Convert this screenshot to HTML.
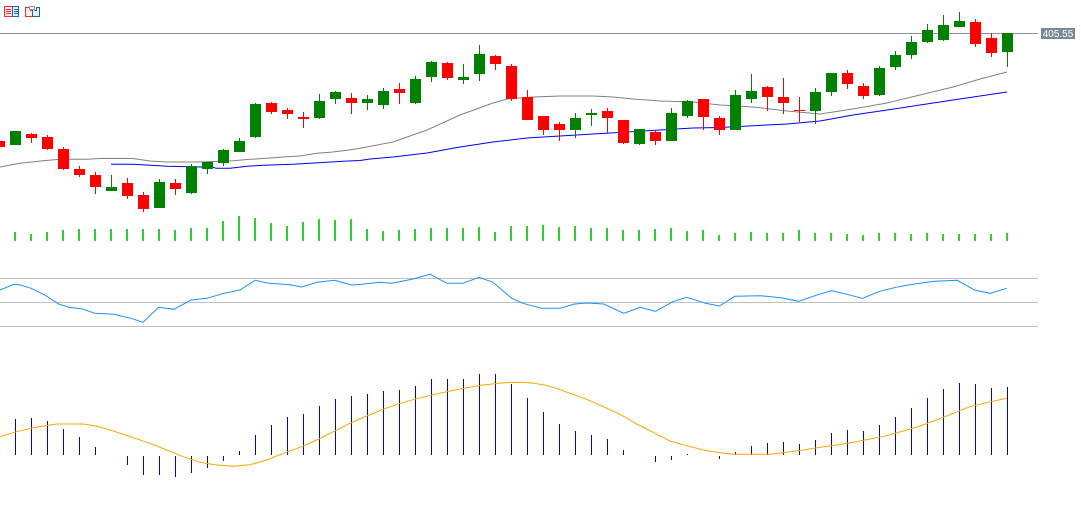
<!DOCTYPE html>
<html><head><meta charset="utf-8"><style>
html,body{margin:0;padding:0;background:#fff;width:1081px;height:507px;overflow:hidden}
svg{display:block}
</style></head><body>
<svg width="1081" height="507" viewBox="0 0 1081 507" xmlns="http://www.w3.org/2000/svg">
<rect width="1081" height="507" fill="#fff"/>
<!-- icons -->
<g shape-rendering="crispEdges">
<rect x="4.5" y="6.5" width="8" height="10" fill="#fde8e8" stroke="#e03030"/>
<rect x="12.5" y="6.5" width="6" height="10" fill="#e8f0fa" stroke="#1a66b0"/>
<rect x="6" y="9" width="5" height="1" fill="#e03030"/><rect x="6" y="11" width="5" height="1" fill="#e03030"/><rect x="6" y="13" width="5" height="1" fill="#e03030"/>
<rect x="14" y="9" width="4" height="1" fill="#1a66b0"/><rect x="14" y="11" width="4" height="1" fill="#1a66b0"/><rect x="14" y="13" width="4" height="1" fill="#1a66b0"/>
<path d="M25.5 7.5 H30.5 V10.5 H32.5 V16.5 H25.5 Z" fill="#fde8e8" stroke="#e03030"/>
<path d="M34.5 10.5 H36.5 V7.5 H39.5 V16.5 H32.5 V10.5" fill="#e8f0fa" stroke="#1a66b0"/>
<rect x="29.5" y="6.5" width="5" height="3" fill="#fff" stroke="#999"/>
</g>
<!-- price line -->
<line x1="0" y1="33.5" x2="1038" y2="33.5" stroke="#8a949e" stroke-width="1"/>
<rect x="1041" y="28" width="34" height="11" fill="#778899"/>
<text x="1058" y="37" font-family="Liberation Sans, sans-serif" font-size="10" fill="#fff" text-anchor="middle">405.55</text>
<!-- moving averages -->
<polyline fill="none" stroke="#808080" stroke-width="1" points="0,167 20,163.3 43,160.7 60,159.3 87,159.3 100,158.5 133,158.5 150,161 167,162 200,162 233,160.7 250,159.3 267,158.3 283,157 300,156 317,153.3 333,152 347,150.3 360,148.3 393,142 427,130 460,115 493,103 507,99 533,97 560,96 593,96 613,97 633,99 660,101 693,102 720,105 753,107 787,111 820,114 853,109 887,103 920,95 953,87 980,79 1007,72"/>
<polyline fill="none" stroke="#0000ff" stroke-width="1" points="111,164.3 133,164.3 150,165.3 167,166.3 213,167.3 216,168.3 230,168.3 247,166.3 263,165.3 293,164.3 310,163.3 327,162.3 343,161.3 360,160.5 370,159 393,157 427,153 460,147 493,142 527,138 560,136 593,134 627,132 660,130 693,128 720,127.5 787,124 820,121 853,115 887,110 920,105 953,100 1007,92"/>
<!-- candles red -->
<g fill="#ff0000" shape-rendering="crispEdges">
<rect x="-6" y="141" width="11" height="6"/>
<rect x="31" y="133" width="1" height="10"/><rect x="26" y="134" width="11" height="4"/>
<rect x="47" y="135" width="1" height="15"/><rect x="42" y="137" width="11" height="12"/>
<rect x="63" y="147" width="1" height="23"/><rect x="58" y="149" width="11" height="20"/>
<rect x="79" y="166" width="1" height="11"/><rect x="74" y="169" width="11" height="6"/>
<rect x="95" y="172" width="1" height="22"/><rect x="90" y="175" width="11" height="12"/>
<rect x="127" y="178" width="1" height="21"/><rect x="122" y="183" width="11" height="13"/>
<rect x="143" y="192" width="1" height="20"/><rect x="138" y="195" width="11" height="14"/>
<rect x="175" y="179" width="1" height="16"/><rect x="170" y="183" width="11" height="6"/>
<rect x="271" y="102" width="1" height="12"/><rect x="266" y="103" width="11" height="9"/>
<rect x="287" y="108" width="1" height="11"/><rect x="282" y="110" width="11" height="4"/>
<rect x="303" y="112" width="1" height="16"/><rect x="298" y="117" width="11" height="2"/>
<rect x="351" y="93" width="1" height="21"/><rect x="346" y="98" width="11" height="5"/>
<rect x="399" y="83" width="1" height="21"/><rect x="394" y="89" width="11" height="4"/>
<rect x="447" y="62" width="1" height="18"/><rect x="442" y="63" width="11" height="15"/>
<rect x="495" y="55" width="1" height="15"/><rect x="490" y="56" width="11" height="8"/>
<rect x="511" y="64" width="1" height="37"/><rect x="506" y="66" width="11" height="33"/>
<rect x="527" y="90" width="1" height="30"/><rect x="522" y="97" width="11" height="23"/>
<rect x="543" y="116" width="1" height="19"/><rect x="538" y="116" width="11" height="14"/>
<rect x="559" y="122" width="1" height="19"/><rect x="554" y="124" width="11" height="6"/>
<rect x="607" y="108" width="1" height="25"/><rect x="602" y="111" width="11" height="7"/>
<rect x="623" y="120" width="1" height="24"/><rect x="618" y="120" width="11" height="23"/>
<rect x="655" y="130" width="1" height="15"/><rect x="650" y="132" width="11" height="9"/>
<rect x="703" y="99" width="1" height="31"/><rect x="698" y="99" width="11" height="18"/>
<rect x="719" y="116" width="1" height="19"/><rect x="714" y="118" width="11" height="12"/>
<rect x="767" y="86" width="1" height="25"/><rect x="762" y="87" width="11" height="10"/>
<rect x="783" y="78" width="1" height="36"/><rect x="778" y="97" width="11" height="6"/>
<rect x="799" y="97" width="1" height="25"/><rect x="794" y="110" width="11" height="1"/>
<rect x="847" y="70" width="1" height="19"/><rect x="842" y="73" width="11" height="11"/>
<rect x="863" y="83" width="1" height="16"/><rect x="858" y="86" width="11" height="10"/>
<rect x="975" y="19" width="1" height="28"/><rect x="970" y="22" width="11" height="22"/>
<rect x="991" y="33" width="1" height="24"/><rect x="986" y="38" width="11" height="15"/>
</g>
<!-- candles green -->
<g fill="#008000" shape-rendering="crispEdges">
<rect x="10" y="131" width="11" height="14"/>
<rect x="111" y="175" width="1" height="16"/><rect x="106" y="187" width="11" height="4"/>
<rect x="159" y="179" width="1" height="29"/><rect x="154" y="182" width="11" height="26"/>
<rect x="191" y="164" width="1" height="30"/><rect x="186" y="166" width="11" height="27"/>
<rect x="207" y="162" width="1" height="12"/><rect x="202" y="162" width="11" height="7"/>
<rect x="223" y="149" width="1" height="17"/><rect x="218" y="150" width="11" height="13"/>
<rect x="239" y="138" width="1" height="14"/><rect x="234" y="141" width="11" height="11"/>
<rect x="255" y="103" width="1" height="35"/><rect x="250" y="104" width="11" height="33"/>
<rect x="319" y="94" width="1" height="25"/><rect x="314" y="101" width="11" height="17"/>
<rect x="335" y="91" width="1" height="13"/><rect x="330" y="92" width="11" height="7"/>
<rect x="367" y="95" width="1" height="15"/><rect x="362" y="99" width="11" height="4"/>
<rect x="383" y="88" width="1" height="21"/><rect x="378" y="91" width="11" height="14"/>
<rect x="415" y="76" width="1" height="28"/><rect x="410" y="79" width="11" height="24"/>
<rect x="431" y="61" width="1" height="21"/><rect x="426" y="62" width="11" height="15"/>
<rect x="463" y="64" width="1" height="20"/><rect x="458" y="77" width="11" height="3"/>
<rect x="479" y="45" width="1" height="36"/><rect x="474" y="54" width="11" height="20"/>
<rect x="575" y="113" width="1" height="25"/><rect x="570" y="118" width="11" height="12"/>
<rect x="591" y="109" width="1" height="17"/><rect x="586" y="113" width="11" height="2"/>
<rect x="639" y="129" width="1" height="16"/><rect x="634" y="129" width="11" height="15"/>
<rect x="671" y="108" width="1" height="33"/><rect x="666" y="113" width="11" height="28"/>
<rect x="687" y="100" width="1" height="18"/><rect x="682" y="101" width="11" height="15"/>
<rect x="735" y="90" width="1" height="40"/><rect x="730" y="95" width="11" height="35"/>
<rect x="751" y="74" width="1" height="29"/><rect x="746" y="91" width="11" height="8"/>
<rect x="815" y="88" width="1" height="36"/><rect x="810" y="92" width="11" height="19"/>
<rect x="831" y="73" width="1" height="23"/><rect x="826" y="73" width="11" height="19"/>
<rect x="879" y="66" width="1" height="30"/><rect x="874" y="68" width="11" height="27"/>
<rect x="895" y="51" width="1" height="19"/><rect x="890" y="55" width="11" height="12"/>
<rect x="911" y="36" width="1" height="23"/><rect x="906" y="42" width="11" height="13"/>
<rect x="927" y="24" width="1" height="19"/><rect x="922" y="30" width="11" height="12"/>
<rect x="943" y="15" width="1" height="26"/><rect x="938" y="25" width="11" height="15"/>
<rect x="959" y="12" width="1" height="15"/><rect x="954" y="21" width="11" height="6"/>
<rect x="1007" y="33" width="1" height="34"/><rect x="1002" y="33" width="11" height="19"/>
</g>
<!-- volume -->
<g fill="#32cd32" shape-rendering="crispEdges">
<rect x="14" y="232" width="2" height="9"/><rect x="30" y="234" width="2" height="7"/><rect x="46" y="232" width="2" height="9"/><rect x="62" y="230" width="2" height="11"/>
<rect x="78" y="229" width="2" height="12"/><rect x="94" y="229" width="2" height="12"/><rect x="110" y="229" width="2" height="12"/><rect x="126" y="229" width="2" height="12"/>
<rect x="142" y="229" width="2" height="12"/><rect x="158" y="229" width="2" height="12"/><rect x="174" y="230" width="2" height="11"/><rect x="190" y="228" width="2" height="13"/>
<rect x="206" y="228" width="2" height="13"/><rect x="222" y="221" width="2" height="20"/><rect x="238" y="216" width="2" height="25"/><rect x="254" y="218" width="2" height="23"/>
<rect x="270" y="223" width="2" height="18"/><rect x="286" y="226" width="2" height="15"/><rect x="302" y="222" width="2" height="19"/><rect x="318" y="219" width="2" height="22"/>
<rect x="334" y="220" width="2" height="21"/><rect x="350" y="219" width="2" height="22"/><rect x="366" y="229" width="2" height="12"/><rect x="382" y="231" width="2" height="10"/>
<rect x="398" y="230" width="2" height="11"/><rect x="414" y="229" width="2" height="12"/><rect x="430" y="228" width="2" height="13"/><rect x="446" y="228" width="2" height="13"/>
<rect x="462" y="228" width="2" height="13"/><rect x="478" y="227" width="2" height="14"/><rect x="494" y="232" width="2" height="9"/><rect x="510" y="226" width="2" height="15"/>
<rect x="526" y="226" width="2" height="15"/><rect x="542" y="225" width="2" height="16"/><rect x="558" y="227" width="2" height="14"/><rect x="574" y="226" width="2" height="15"/>
<rect x="590" y="228" width="2" height="13"/><rect x="606" y="228" width="2" height="13"/><rect x="622" y="230" width="2" height="11"/><rect x="638" y="230" width="2" height="11"/>
<rect x="654" y="229" width="2" height="12"/><rect x="670" y="228" width="2" height="13"/><rect x="686" y="231" width="2" height="10"/><rect x="702" y="230" width="2" height="11"/>
<rect x="718" y="235" width="2" height="6"/><rect x="734" y="233" width="2" height="8"/><rect x="750" y="232" width="2" height="9"/><rect x="766" y="233" width="2" height="8"/>
<rect x="782" y="233" width="2" height="8"/><rect x="798" y="230" width="2" height="11"/><rect x="814" y="233" width="2" height="8"/><rect x="830" y="233" width="2" height="8"/>
<rect x="846" y="234" width="2" height="7"/><rect x="862" y="235" width="2" height="6"/><rect x="878" y="233" width="2" height="8"/><rect x="894" y="233" width="2" height="8"/>
<rect x="910" y="234" width="2" height="7"/><rect x="926" y="233" width="2" height="8"/><rect x="942" y="234" width="2" height="7"/><rect x="958" y="234" width="2" height="7"/>
<rect x="974" y="234" width="2" height="7"/><rect x="990" y="234" width="2" height="7"/><rect x="1006" y="233" width="2" height="8"/>
</g>
<!-- RSI -->
<g stroke="#c0c0c0" stroke-width="1">
<line x1="0" y1="278.5" x2="1038" y2="278.5"/>
<line x1="0" y1="302.5" x2="1038" y2="302.5"/>
<line x1="0" y1="326.5" x2="1038" y2="326.5"/>
</g>
<polyline fill="none" stroke="#1e90ff" stroke-width="1" points="0,290 13.8,284.3 20.7,285 31,288.3 44.8,295 58.6,304 69,307.3 82.8,309 94.8,313.3 113.8,314.3 131,318.3 143,322.3 158.6,307.3 174,309.3 191,300 207,298.3 224,293.3 240,290 255,280.3 269,283.3 290,284.7 301.7,287 317,282.3 334.5,280.3 351.7,285 362,284.3 380,282.3 392,283.3 413,279 430,274.3 447,283.3 463,283.3 479,277.3 493,282.3 511.7,298.3 523,303.3 541.7,308.3 560,308.3 574.5,304 586.6,303 603.8,304 623.8,313.3 640,307.3 655.5,311.3 672.8,301.7 686.6,297.3 705.5,303.3 719.3,306 734.8,296.3 760.7,295.7 781,297.7 798.6,301.3 815.9,295.3 831.4,290.7 846.9,294.3 862.4,298.3 879.7,291.3 898.6,286.7 915.9,283.7 934.8,281.3 957.2,280.3 974.5,290 990,293.3 1006.6,288.3"/>
<!-- MACD histogram -->
<g fill="#0000dd" shape-rendering="crispEdges">
<rect x="15" y="419" width="1" height="36"/><rect x="31" y="418" width="1" height="37"/><rect x="47" y="421" width="1" height="34"/><rect x="63" y="429" width="1" height="26"/>
<rect x="79" y="437" width="1" height="18"/><rect x="95" y="447" width="1" height="8"/>
<rect x="127" y="456" width="1" height="9"/><rect x="143" y="456" width="1" height="19"/><rect x="159" y="456" width="1" height="19"/><rect x="175" y="456" width="1" height="21"/>
<rect x="191" y="456" width="1" height="17"/><rect x="207" y="456" width="1" height="12"/><rect x="223" y="456" width="1" height="5"/>
<rect x="239" y="451" width="1" height="4"/><rect x="255" y="435" width="1" height="20"/><rect x="271" y="425" width="1" height="30"/><rect x="287" y="417" width="1" height="38"/>
<rect x="303" y="414" width="1" height="41"/><rect x="319" y="406" width="1" height="49"/><rect x="335" y="399" width="1" height="56"/><rect x="351" y="396" width="1" height="59"/>
<rect x="367" y="394" width="1" height="61"/><rect x="383" y="391" width="1" height="64"/><rect x="399" y="390" width="1" height="65"/><rect x="415" y="386" width="1" height="69"/>
<rect x="431" y="379" width="1" height="76"/><rect x="447" y="379" width="1" height="76"/><rect x="463" y="379" width="1" height="76"/><rect x="479" y="374" width="1" height="81"/>
<rect x="495" y="374" width="1" height="81"/><rect x="511" y="384" width="1" height="71"/><rect x="527" y="398" width="1" height="57"/><rect x="543" y="412" width="1" height="43"/>
<rect x="559" y="424" width="1" height="31"/><rect x="575" y="431" width="1" height="24"/><rect x="591" y="435" width="1" height="20"/><rect x="607" y="439" width="1" height="16"/>
<rect x="623" y="450" width="1" height="5"/>
<rect x="655" y="456" width="1" height="6"/><rect x="671" y="456" width="1" height="4"/><rect x="687" y="454" width="1" height="1"/>
<rect x="719" y="456" width="1" height="3"/><rect x="735" y="452" width="1" height="3"/><rect x="751" y="446" width="1" height="9"/><rect x="767" y="443" width="1" height="12"/>
<rect x="783" y="442" width="1" height="13"/><rect x="799" y="444" width="1" height="11"/><rect x="815" y="440" width="1" height="15"/><rect x="831" y="433" width="1" height="22"/>
<rect x="847" y="430" width="1" height="25"/><rect x="863" y="431" width="1" height="24"/><rect x="879" y="425" width="1" height="30"/><rect x="895" y="417" width="1" height="38"/>
<rect x="911" y="408" width="1" height="47"/><rect x="927" y="398" width="1" height="57"/><rect x="943" y="389" width="1" height="66"/><rect x="959" y="383" width="1" height="72"/>
<rect x="975" y="384" width="1" height="71"/><rect x="991" y="388" width="1" height="67"/><rect x="1007" y="387" width="1" height="68"/>
</g>
<!-- MACD signal -->
<polyline fill="none" stroke="#ffa500" stroke-width="1" points="0,436.7 16.7,431.7 33.3,427.7 50,425 56.7,424 83.3,424 96.7,426.3 113.3,431 133.3,437.7 150,443.3 166.7,450 183.3,456.7 200,462.3 216.7,465 233.3,466.3 250,464.7 266.7,460 283.3,453.3 300,447.3 316.7,440 333.3,431.7 350,423.3 366.7,416 383.3,409.3 400,403.3 416.7,398.7 433.3,394.7 450,391 466.7,387.7 483.3,385 503.3,382.7 520,382.3 530,382.7 543.3,384.7 556.7,388.3 570,393.3 586.7,399.3 603.3,406.7 620,414.3 636.7,424 653.3,432.3 670,441 686.7,445.7 703.3,450 720,452.7 733.3,454.3 770,454.3 786.7,452.3 803.3,450 820,447.3 836.7,445 853.3,442.3 870,439 886.7,435.7 903.3,431 920,426 936.7,420 953.3,413.3 970,406.7 986.7,402.7 1006.7,398.3"/>
</svg>
</body></html>
